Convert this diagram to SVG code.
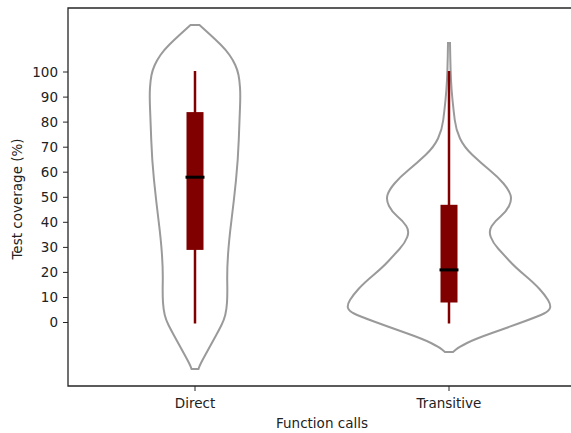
<svg xmlns="http://www.w3.org/2000/svg" width="571" height="433" viewBox="0 0 571 433">
<style>
text{font-family:"DejaVu Sans","Liberation Sans",sans-serif;font-size:13.5px;fill:#222}
.yt{text-anchor:end}
.xt{text-anchor:middle}
.spine{stroke:#262626;stroke-width:1.3;fill:none}
.tick{stroke:#262626;stroke-width:1}
.violin{fill:none;stroke:#9a9a9a;stroke-width:2}
.whisker{stroke:#800000;stroke-width:2.5}
.box{fill:#800000}
.median{stroke:#000;stroke-width:3}
</style>
<rect width="571" height="433" fill="#fff"/>
<g id="axes">
<path class="spine" d="M571 8H68V386H571"/>
<g class="tick">
<path d="M63 322.5H68M63 297.5H68M63 272.4H68M63 247.4H68M63 222.3H68M63 197.3H68M63 172.2H68M63 147.2H68M63 122.1H68M63 97.1H68M63 72H68"/>
<path d="M195 386V391M449 386V391"/>
</g>
<g class="yt">
<text x="58" y="327.3">0</text>
<text x="58" y="302.3">10</text>
<text x="58" y="277.2">20</text>
<text x="58" y="252.2">30</text>
<text x="58" y="227.1">40</text>
<text x="58" y="202.1">50</text>
<text x="58" y="177">60</text>
<text x="58" y="152">70</text>
<text x="58" y="126.9">80</text>
<text x="58" y="101.9">90</text>
<text x="58" y="76.8">100</text>
</g>
<text class="xt" x="195" y="408">Direct</text>
<text class="xt" x="449" y="408">Transitive</text>
<text class="xt" x="322" y="428">Function calls</text>
<text class="xt" transform="translate(22 199) rotate(-90)">Test coverage (%)</text>
</g>
<g id="direct">
<path class="violin" d="M190.5 25 L199.5 25 L202.25 27.5 Q205 30 210.5 35 Q216 40 221 45 Q226 50 229.5 55 Q233 60 235.25 65 Q237.5 70 238.5 75 Q239.5 80 240 87.5 Q240.5 95 240 107.5 Q239.5 120 238.75 140 Q238 160 236 180 Q234 200 231.5 220 Q229 240 228 255 Q227 270 227.25 282.5 Q227.5 295 227 302.5 Q226.5 310 225.25 315 Q224 320 221.5 325 Q219 330 216.25 335 Q213.5 340 210.75 345 Q208 350 205.25 355 Q202.5 360 201 363 Q199.5 366 199 367.5 L198.5 369 L191.5 369 L191 367.5 Q190.5 366 189 363 Q187.5 360 184.75 355 Q182 350 179.25 345 Q176.5 340 173.75 335 Q171 330 168.5 325 Q166 320 164.75 315 Q163.5 310 163 302.5 Q162.5 295 162.75 282.5 Q163 270 162 255 Q161 240 158.5 220 Q156 200 154 180 Q152 160 151.25 140 Q150.5 120 150 107.5 Q149.5 95 150 87.5 Q150.5 80 151.5 75 Q152.5 70 154.75 65 Q157 60 160.5 55 Q164 50 169 45 Q174 40 179.5 35 Q185 30 187.75 27.5 Z"/>
<line class="whisker" x1="195" y1="71" x2="195" y2="323.5"/>
<rect class="box" x="186.5" y="112.1" width="17" height="137.8"/>
<line class="median" x1="185.5" y1="177.2" x2="204.5" y2="177.2"/>
</g>
<g id="transitive">
<path class="violin" d="M448 43 L450 43 L450.25 56.5 Q450.5 70 451 80 Q451.5 90 452.5 100 Q453.5 110 454.75 120 Q456 130 460 138.5 Q464 147 472.5 155 Q481 163 489.5 170 Q498 177 503.5 183.5 Q509 190 510.5 195 Q512 200 509 206 Q506 212 500.5 216.5 Q495 221 491.75 226 Q488.5 231 490.75 237 Q493 243 498.5 249 Q504 255 509.5 261 Q515 267 524.5 275 Q534 283 539.5 289 Q545 295 548 300 Q551 305 550 308 Q549 311 544 313.5 Q539 316 524 321.5 Q509 327 492 333 Q475 339 467 343 Q459 347 456 349.5 L453 352 L445 352 L442 349.5 Q439 347 431 343 Q423 339 406 333 Q389 327 374 321.5 Q359 316 354 313.5 Q349 311 348 308 Q347 305 350 300 Q353 295 358.5 289 Q364 283 373.5 275 Q383 267 388.5 261 Q394 255 399.5 249 Q405 243 407.25 237 Q409.5 231 406.25 226 Q403 221 397.5 216.5 Q392 212 389 206 Q386 200 387.5 195 Q389 190 394.5 183.5 Q400 177 408.5 170 Q417 163 425.5 155 Q434 147 438 138.5 Q442 130 443.25 120 Q444.5 110 445.5 100 Q446.5 90 447 80 Q447.5 70 447.75 56.5 Z"/>
<line class="whisker" x1="449" y1="71" x2="449" y2="323.5"/>
<rect class="box" x="440.5" y="204.8" width="17" height="97.7"/>
<line class="median" x1="439.5" y1="269.9" x2="458.5" y2="269.9"/>
</g>
</svg>
